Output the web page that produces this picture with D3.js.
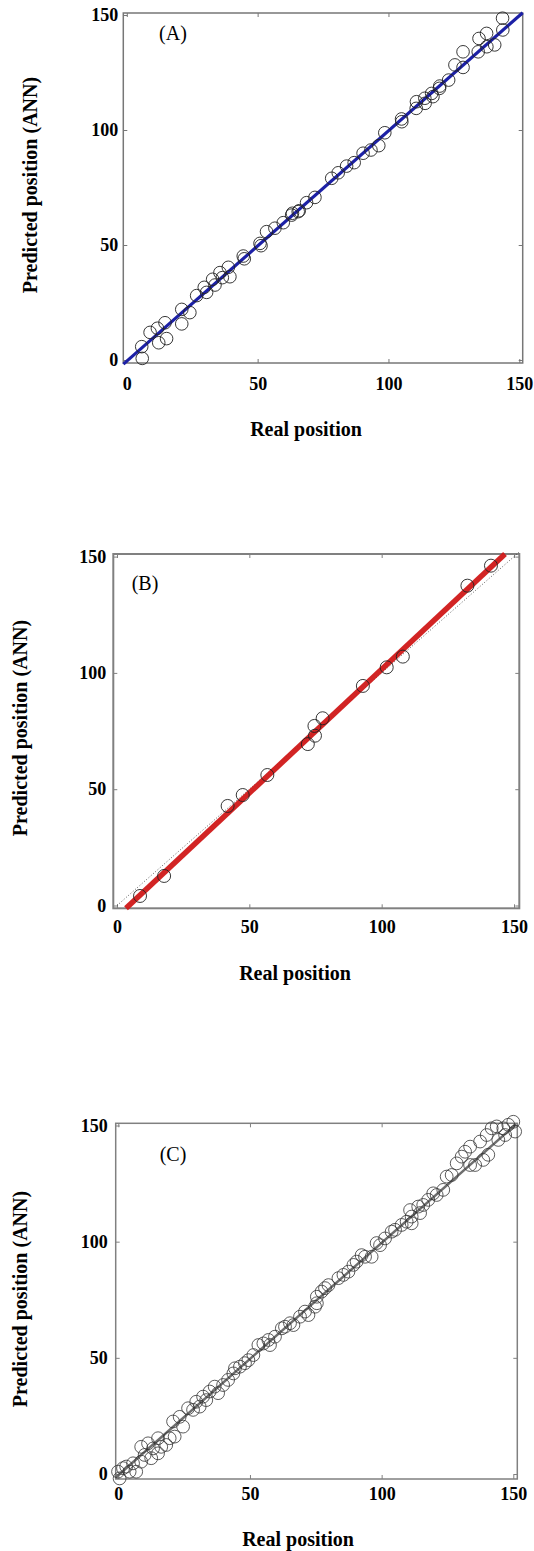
<!DOCTYPE html>
<html>
<head>
<meta charset="utf-8">
<script src="https://cdn.jsdelivr.net/npm/d3@7"></script>
<style>
  html, body { margin: 0; padding: 0; background: #fff; }
  svg { display: block; }
</style>
</head>
<body>
<svg id="chart" width="534" height="1551"></svg>
<script>
// ---------- DATA ----------
const xTicks = [0, 50, 100, 150];
const yTicks = [0, 50, 100, 150];
const xTitle = "Real position";
const yTitle = "Predicted position (ANN)";
const panelLabels = ["(A)", "(B)", "(C)"];

// Panel A
const aReal = [5.7, 5.9, 8.9, 11.7, 12.2, 14.6, 15.2, 21, 21, 24.1, 26.7, 29.6, 30.5, 32.8, 33.7, 35.6, 36.5, 38.8, 39.4, 44.5, 44.9, 50.9, 51.3, 53.4, 56.6, 59.8, 63, 63.3, 65.5, 65.9, 68.7, 71.9, 78.3, 80.8, 84, 86.9, 90.3, 93.3, 96.3, 98.6, 105, 105.1, 110.6, 110.7, 113.9, 114, 116.5, 117, 119.5, 119.6, 123, 125.4, 128.5, 128.5, 134.3, 134.6, 137.5, 137.6, 140.6, 143.6, 143.7];
const aPred = [5.8, 0.7, 12, 13.8, 7.5, 16.2, 9.3, 15.7, 22, 20.6, 28, 31.6, 29.4, 35.1, 32.6, 38, 35.8, 40.3, 36.2, 45.2, 44, 50.7, 49.7, 55.8, 57.3, 59.7, 63, 63.8, 64.5, 64.9, 68.4, 70.7, 79, 81.4, 84.3, 85.8, 89.9, 91.3, 93.2, 98.8, 104.8, 103.6, 109.4, 112.3, 113.8, 111.6, 115.9, 114.5, 118.1, 119.1, 121.7, 128.3, 127.2, 134, 134, 139.8, 142, 136.2, 137, 148.6, 143.5];
const aFitReal = [-1.3, 151.3];
const aFitPred = [-1.8, 151];

// Panel B
const bReal = [8.7, 17.8, 41.8, 47.5, 56.8, 72.1, 74.8, 74.6, 77.7, 92.9, 101.9, 108, 132.4, 141.3];
const bPred = [4.1, 12.7, 42.8, 47.5, 56.1, 69.4, 73, 77.2, 80.5, 94.4, 102.4, 107, 137.5, 146.1];
const bFitReal = [3.4, 146.6];
const bFitPred = [-1.2, 151.1];
const bDiagReal = [0, 152];
const bDiagPred = [0, 152];

// Panel C
const cReal = [-0.1, 0.5, 1.8, 3.0, 4.3, 5.6, 6.8, 8.7, 8.7, 10.0, 11.3, 12.5, 13.2, 15.1, 15.1, 16.3, 18.2, 19.5, 20.8, 21.4, 23.3, 24.6, 26.5, 28.4, 29.6, 30.9, 32.2, 33.4, 34.7, 36.6, 37.9, 39.8, 41.7,
  43.7, 44.3, 46.2, 48.1, 49.4, 51.3, 53.2, 55.1, 57.0, 57.6, 59.5, 62.1, 63.3, 65.2, 66.5, 69.0, 70.9, 72.2, 74.7, 75.4, 75.4, 77.2, 78.5, 79.8,
  83.6, 85.5, 87.4, 89.3, 90.5, 92.4, 93.7, 96.2, 98.1, 99.4, 101.3, 103.8, 105.1, 107.6, 109.5, 111.4, 110.8, 113.9, 114.6, 111.4,
  115.8, 117.7, 119.6, 120.9, 123.4, 124.7, 126.6, 128.5, 130.4, 133.6, 131.7, 133.6, 135.5, 137.4, 138.6, 140.5, 139.9, 141.8, 144.3, 143.7, 146.2, 146.9, 148.1, 150.0, 150.7];
const cPred = [1.0, -1.9, 2.5, 3.2, 1.0, 4.6, 1.0, 5.3, 11.7, 8.2, 13.2, 6.8, 11.0, 15.4, 8.9, 11.7, 12.5, 15.4, 22.6, 16.1, 24.6, 20.4, 28.3, 27.6, 31.1, 29.0, 33.3, 31.8, 35.5, 37.6, 34.8, 38.3, 40.5,
  43.3, 45.5, 46.2, 47.7, 49.0, 51.2, 55.5, 56.2, 57.7, 55.5, 59.1, 62.7, 63.4, 64.9, 64.1, 67.7, 69.9, 68.4, 72.0, 76.3, 73.5, 78.5, 80.0, 81.3,
  84.3, 85.7, 87.1, 90.0, 91.4, 94.2, 93.5, 93.5, 99.4, 98.5, 101.4, 104.3, 105.1, 107.2, 108.6, 110.8, 113.6, 115.1, 112.3, 107.9,
  115.8, 118.0, 120.8, 120.1, 122.3, 128.0, 128.7, 133.7, 136.6, 133.0, 138.7, 140.9, 133.0, 143.1, 135.2, 137.4, 145.9, 148.8, 143.8, 149.6, 148.8, 145.9, 150.3, 151.6, 147.4];
const cFitReal = [-1, 151];
const cFitPred = [-1.5, 150.5];

// ---------- LAYOUT / STYLE ----------
const FONT = "Liberation Serif";
const panels = [
  { label: panelLabels[0], real: aReal, pred: aPred,
    frame: {l: 123.3, r: 522.7, t: 13, b: 363}, x0: 126.8, x150: 519.3, y0: 360, y150: 15,
    xPad: 14, yPad: 5, xTitlePos: [306, 436], yTitlePos: [37, 185], labelPos: [173, 40],
    frameColor: "#777", frameWidth: 1.5, r: 6.3, circleStroke: "#222", circleOpacity: 0.9,
    lines: [{xs: aFitReal, ys: aFitPred, color: "#1c20a6", width: 3.2, dash: null, opacity: 1}] },
  { label: panelLabels[1], real: bReal, pred: bPred,
    frame: {l: 113.3, r: 519.3, t: 554, b: 908.3}, x0: 117, x150: 514, y0: 905.5, y150: 556.6,
    xPad: 12, yPad: 7, xTitlePos: [295, 980], yTitlePos: [27, 728], labelPos: [145, 590],
    frameColor: "#808080", frameWidth: 2, r: 6.5, circleStroke: "#222", circleOpacity: 0.9,
    lines: [{xs: bDiagReal, ys: bDiagPred, color: "#333", width: 0.8, dash: "1,2", opacity: 1},
            {xs: bFitReal, ys: bFitPred, color: "#d01818", width: 5.5, dash: null, opacity: 0.95}] },
  { label: panelLabels[2], real: cReal, pred: cPred,
    frame: {l: 115.7, r: 517.3, t: 1123.3, b: 1479}, x0: 118.3, x150: 513.3, y0: 1474, y150: 1125.5,
    xPad: 8, yPad: 8, xTitlePos: [298, 1546], yTitlePos: [27, 1299], labelPos: [173, 1161],
    frameColor: "#808080", frameWidth: 1.5, r: 6.4, circleStroke: "#333", circleOpacity: 0.8,
    lines: [{xs: cFitReal, ys: cFitPred, color: "#555", width: 2.5, dash: null, opacity: 0.85}] }
];

const svg = d3.select("#chart");

panels.forEach(p => {
  const g = svg.append("g");
  const x = d3.scaleLinear().domain([0, 150]).range([p.x0, p.x150]);
  const y = d3.scaleLinear().domain([0, 150]).range([p.y0, p.y150]);
  const f = p.frame;

  // frame
  g.append("rect")
    .attr("x", f.l).attr("y", f.t)
    .attr("width", f.r - f.l).attr("height", f.b - f.t)
    .attr("fill", "none").attr("stroke", p.frameColor).attr("stroke-width", p.frameWidth);

  // axes (inward ticks)
  const styleAxis = sel => {
    sel.attr("font-family", FONT).attr("font-size", 18).attr("font-weight", "bold");
    sel.select(".domain").remove();
    sel.selectAll(".tick line").attr("stroke", p.frameColor).attr("stroke-width", 1);
    sel.selectAll(".tick text").attr("fill", "#000");
  };
  g.append("g").attr("transform", `translate(0,${f.b})`)
    .call(d3.axisBottom(x).tickValues(xTicks).tickSize(-4).tickPadding(p.xPad).tickFormat(d3.format("d")))
    .call(styleAxis);
  g.append("g").attr("transform", `translate(0,${f.t})`)
    .call(d3.axisTop(x).tickValues(xTicks).tickSize(-4).tickFormat(""))
    .call(styleAxis);
  g.append("g").attr("transform", `translate(${f.l},0)`)
    .call(d3.axisLeft(y).tickValues(yTicks).tickSize(-4).tickPadding(p.yPad).tickFormat(d3.format("d")))
    .call(styleAxis);
  g.append("g").attr("transform", `translate(${f.r},0)`)
    .call(d3.axisRight(y).tickValues(yTicks).tickSize(-4).tickFormat(""))
    .call(styleAxis);

  // lines
  const lineGen = d3.line().x(d => x(d[0])).y(d => y(d[1]));
  p.lines.forEach(L => {
    g.append("path")
      .datum(d3.zip(L.xs, L.ys))
      .attr("d", lineGen)
      .attr("fill", "none")
      .attr("stroke", L.color)
      .attr("stroke-width", L.width)
      .attr("stroke-opacity", L.opacity)
      .attr("stroke-dasharray", L.dash);
  });

  // circles
  g.append("g").selectAll("circle")
    .data(d3.zip(p.real, p.pred))
    .join("circle")
    .attr("cx", d => x(d[0]))
    .attr("cy", d => y(d[1]))
    .attr("r", p.r)
    .attr("fill", "none")
    .attr("stroke", p.circleStroke)
    .attr("stroke-opacity", p.circleOpacity)
    .attr("stroke-width", 1);

  // titles
  g.append("text")
    .attr("font-family", FONT).attr("font-weight", "bold").attr("font-size", 20)
    .attr("x", p.xTitlePos[0]).attr("y", p.xTitlePos[1])
    .attr("text-anchor", "middle").text(xTitle);
  g.append("text")
    .attr("font-family", FONT).attr("font-weight", "bold").attr("font-size", 20)
    .attr("transform", `translate(${p.yTitlePos[0]},${p.yTitlePos[1]}) rotate(-90)`)
    .attr("text-anchor", "middle").text(yTitle);
  g.append("text")
    .attr("font-family", FONT).attr("font-size", 20)
    .attr("x", p.labelPos[0]).attr("y", p.labelPos[1])
    .attr("text-anchor", "middle").text(p.label);
});
</script>
</body>
</html>
